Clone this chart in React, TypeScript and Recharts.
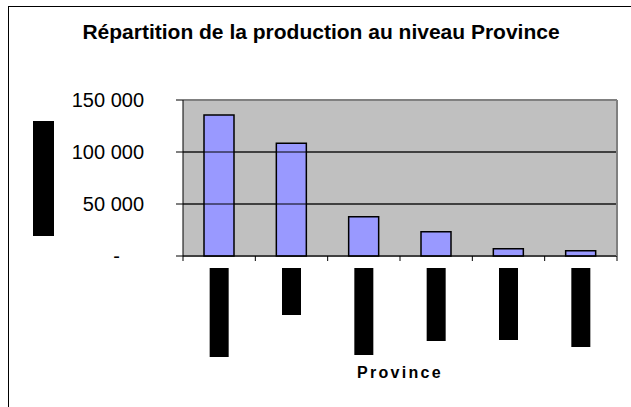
import React from 'react';
import { BarChart, Bar, XAxis, YAxis, CartesianGrid, ReferenceLine } from 'recharts';

// Province names are masked in the source picture
const provinces = ['Province 1', 'Province 2', 'Province 3', 'Province 4', 'Province 5', 'Province 6'];
const production = [135500, 108500, 37800, 23400, 7000, 5100];
const yTicks = [0, 50000, 100000, 150000];

const data = provinces.map((name, i) => ({ name, value: production[i] }));

const FONT = '"Liberation Sans", Arial, Helvetica, sans-serif';
const PLOT_LEFT = 183;
const PLOT_RIGHT = 617;
const PLOT_BOTTOM = 256;
const BAND = (PLOT_RIGHT - PLOT_LEFT) / provinces.length;
// lengths of the masked (rotated) labels
const maskHeights = [89, 47, 87, 73, 72, 79];

function formatThousands(v: number) {
  if (v === 0) return '-';
  return String(v).replace(/\B(?=(\d{3})+(?!\d))/g, ' ');
}

function YTick(props: any) {
  const { x, y, payload } = props;
  const v = payload.value as number;
  return (
    <text
      x={v === 0 ? x - 24 : x}
      y={y}
      dy="0.355em"
      textAnchor="end"
      fontFamily={FONT}
      fontSize={20}
      fill="#000"
    >
      {formatThousands(v)}
    </text>
  );
}

function XTick(props: any) {
  const { x, index } = props;
  const left = x - BAND / 2;
  return (
    <g>
      <line x1={left} x2={left} y1={PLOT_BOTTOM} y2={PLOT_BOTTOM + 5} stroke="#000" />
      {index === provinces.length - 1 && (
        <line x1={x + BAND / 2} x2={x + BAND / 2} y1={PLOT_BOTTOM} y2={PLOT_BOTTOM + 5} stroke="#000" />
      )}
      <rect x={x - 9.5} y={PLOT_BOTTOM + 12} width={19} height={maskHeights[index] ?? 70} fill="#000" />
    </g>
  );
}

export default function App() {
  return (
    <div style={{ position: 'absolute', left: 0, top: 0, width: 631, height: 407, overflow: 'hidden', background: '#fff' }}>
      {/* outer chart frame, only top and left edges are inside the picture */}
      <div
        style={{
          position: 'absolute',
          left: 8,
          top: 6,
          width: 700,
          height: 500,
          borderTop: '1.5px solid #000',
          borderLeft: '1.5px solid #000',
        }}
      />
      <div
        style={{
          position: 'absolute',
          left: 0,
          width: 642,
          top: 21,
          textAlign: 'center',
          fontFamily: FONT,
          fontWeight: 'bold',
          fontSize: 21,
          lineHeight: '21px',
          color: '#000',
          whiteSpace: 'nowrap',
        }}
      >
        Répartition de la production au niveau Province
      </div>
      {/* masked y-axis title */}
      <div style={{ position: 'absolute', left: 33, top: 121, width: 21, height: 115, background: '#000' }} />
      <div style={{ position: 'absolute', left: 0, top: 0 }}>
        <BarChart
          width={631}
          height={407}
          data={data}
          margin={{ top: 100, right: 0, left: 0, bottom: 0 }}
          barSize={30}
        >
          <CartesianGrid vertical={false} fill="#C0C0C0" stroke="#808080" strokeWidth={2} />
          <XAxis
            dataKey="name"
            height={151}
            interval={0}
            axisLine={{ stroke: '#000' }}
            tickLine={false}
            tick={<XTick />}
          />
          <YAxis
            width={183}
            domain={[0, 150000]}
            ticks={yTicks}
            axisLine={{ stroke: '#000' }}
            tickLine={{ stroke: '#000' }}
            tickSize={7}
            tickMargin={32}
            tick={<YTick />}
          />
          <YAxis
            yAxisId="right"
            orientation="right"
            width={14}
            domain={[0, 150000]}
            tick={false}
            tickLine={false}
            axisLine={{ stroke: '#808080', strokeWidth: 2 }}
          />
          <ReferenceLine y={50000} stroke="#000" />
          <ReferenceLine y={100000} stroke="#000" />
          <Bar dataKey="value" fill="#9999FF" stroke="#000" strokeWidth={1.5} isAnimationActive={false} />
        </BarChart>
      </div>
      <div
        style={{
          position: 'absolute',
          left: 357,
          top: 365,
          fontFamily: FONT,
          fontWeight: 'bold',
          fontSize: 16,
          lineHeight: '16px',
          letterSpacing: 2.3,
          color: '#000',
          whiteSpace: 'nowrap',
        }}
      >
        Province
      </div>
    </div>
  );
}
